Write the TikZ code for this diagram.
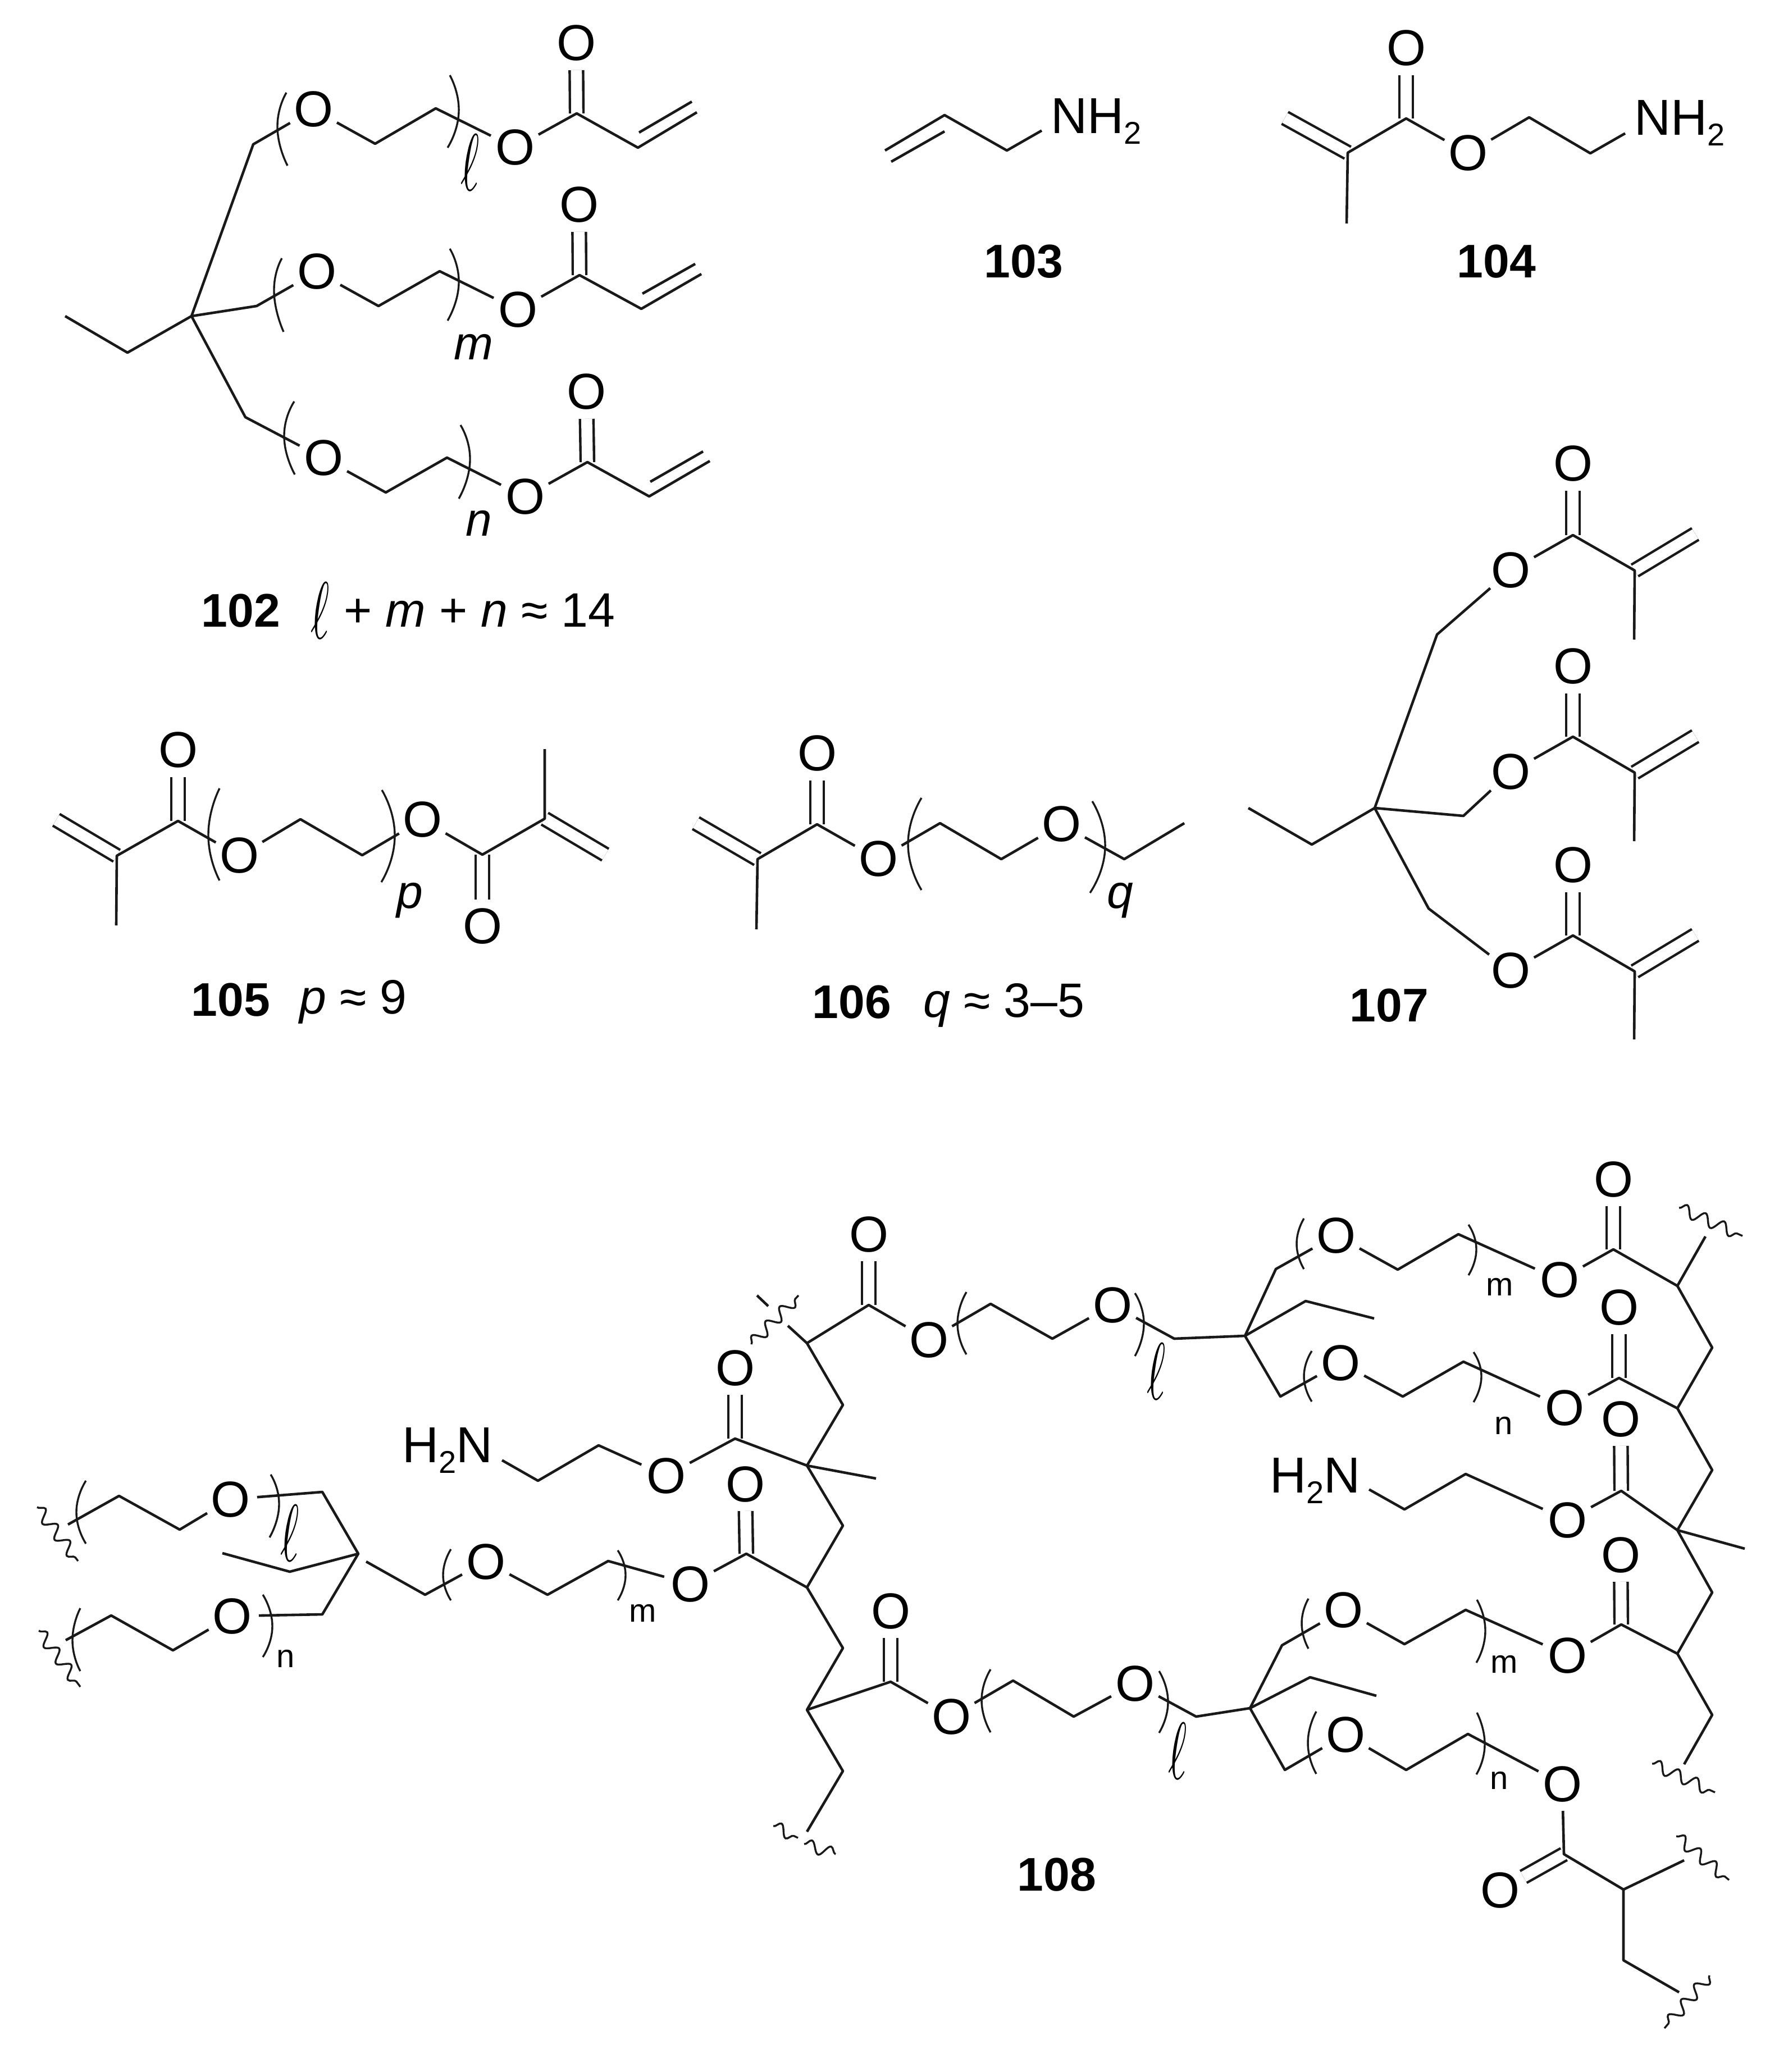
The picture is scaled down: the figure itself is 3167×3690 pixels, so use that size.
\documentclass[tikz,border=0pt]{standalone}
\usepackage{fontspec}
\usepackage{graphicx}
\setmainfont{Liberation Sans}
\usetikzlibrary{decorations.pathmorphing,calc}
\newcommand\subtwo{\raisebox{-4.75pt}{\fontsize{14}{14}\selectfont 2}}
\newcommand\ellg{\scalebox{2}[3.6]{$\ell$}}
\newcommand\arcb[6]{\draw[brk] plot[smooth,tension=1] coordinates {(#1,#2) (#3,#4) (#5,#6)};}
\tikzset{
  bond/.style={line width=1.15pt,line join=round,black!90},
  dbl/.style={line width=1.1pt,double=white,double distance=4.9pt,black!90},
  brk/.style={line width=.85pt,black!90},
  wavy/.style={line width=.85pt,black!90,decorate,decoration={snake,amplitude=2.6pt,segment length=9pt}},
  atom/.style={circle,inner sep=0pt,minimum size=23pt,font=\fontsize{22.5}{22.5}\selectfont},
  txt/.style={inner sep=0pt,font=\fontsize{21.5}{21.5}\selectfont},
  amine/.style={inner sep=0pt,font=\fontsize{22.5}{22.5}\selectfont},
  boldlab/.style={inner sep=0pt,anchor=base,font=\fontsize{21}{21}\selectfont\bfseries},
  idx/.style={inner sep=0pt,anchor=base,font=\fontsize{21}{21}\selectfont\itshape},
  idxs/.style={inner sep=0pt,anchor=base,font=\fontsize{14.5}{14.5}\selectfont},
  ellnode/.style={inner sep=0pt}
}
\begin{document}
\begin{tikzpicture}[x=0.25pt,y=-0.25pt]
\useasboundingbox (0,0) rectangle (3167,3690);
% ---------- 102
\coordinate (a1) at (116,563); \coordinate (a2) at (227,628); \coordinate (a3) at (341,563);
\coordinate (a4) at (451,257); \node[atom] (a5) at (558,195) {O}; \coordinate (a6) at (668,256);
\coordinate (a7) at (776,193); \node[atom] (a8) at (917,263) {O}; \coordinate (a9) at (1027,202);
\node[atom] (a10) at (1026,77) {O}; \coordinate (a11) at (1136,263); \coordinate (a12) at (1241,200);
\coordinate (a13) at (1138,236); \coordinate (a14) at (1232,181);
\coordinate (b1) at (457,545); \node[atom] (b2) at (564,484) {O}; \coordinate (b3) at (674,545);
\coordinate (b4) at (783,483); \node[atom] (b5) at (922,552) {O}; \coordinate (b6) at (1032,490);
\node[atom] (b7) at (1031,365) {O}; \coordinate (b8) at (1142,550); \coordinate (b9) at (1249,488);
\coordinate (b10) at (1144,523); \coordinate (b11) at (1238,470);
\coordinate (c1) at (437,743); \node[atom] (c2) at (576,816) {O}; \coordinate (c3) at (687,877);
\coordinate (c4) at (796,815); \node[atom] (c5) at (935,885) {O}; \coordinate (c6) at (1046,823);
\node[atom] (c7) at (1044,698) {O}; \coordinate (c8) at (1156,884); \coordinate (c9) at (1264,821);
\coordinate (c10) at (1158,858); \coordinate (c11) at (1252,804);
\draw[dbl] (a9) -- (a10); \draw[dbl] (b6) -- (b7); \draw[dbl] (c6) -- (c7);
\draw[bond] (a1) -- (a2) -- (a3) -- (a4) -- (a5) -- (a6) -- (a7) -- (a8) -- (a9) -- (a11) -- (a12);
\draw[bond] (a13) -- (a14);
\draw[bond] (a3) -- (b1) -- (b2) -- (b3) -- (b4) -- (b5) -- (b6) -- (b8) -- (b9);
\draw[bond] (b10) -- (b11);
\draw[bond] (a3) -- (c1) -- (c2) -- (c3) -- (c4) -- (c5) -- (c6) -- (c8) -- (c9);
\draw[bond] (c10) -- (c11);
\arcb{510}{165}{494}{227}{512}{295} \arcb{801}{134}{817}{199}{797}{263}
\arcb{502}{460}{488}{520}{505}{591} \arcb{801}{443}{817}{505}{797}{571}
\arcb{524}{715}{506}{777}{525}{845} \arcb{820}{757}{837}{820}{817}{888}
\node[ellnode] (l102a) at (837,290) {\ellg};
\node[idx] (m102) at (843,641) {m};
\node[idx] (n102) at (853,955) {n};
\node[boldlab] (t102) at (429,1116) {102};
\node[ellnode] (l102b) at (570,1087) {\ellg};
\node[txt,anchor=base west] (f102) at (612,1116) {+ \textit{m} + \textit{n} ≈ 14};
% ---------- 103
\coordinate (v1) at (1576,268); \coordinate (v2) at (1682,205); \coordinate (v3) at (1587,288);
\coordinate (v4) at (1682,234); \coordinate (v5) at (1793,268);
\node[amine,anchor=base west] (nh103) at (1871,238) {NH\subtwo};
\draw[bond] (v1) -- (v2) -- (v5) -- ([shift={(-4pt,-4pt)}]nh103.west);
\draw[bond] (v3) -- (v4);
\node[boldlab] (t103) at (1823,495) {103};
% ---------- 104
\node[atom] (w1) at (2504,86) {O}; \coordinate (w2) at (2504,211); \coordinate (w3) at (2400,272);
\coordinate (w4) at (2398,398); \coordinate (w5) at (2288,210); \node[atom] (w6) at (2614,273) {O};
\coordinate (w7) at (2723,209); \coordinate (w8) at (2832,273);
\node[amine,anchor=base west] (nh104) at (2910,241) {NH\subtwo};
\draw[dbl] (w2) -- (w1); \draw[dbl] (w3) -- (w5);
\draw[bond] (w4) -- (w3) -- (w2) -- (w6) -- (w7) -- (w8) -- ([shift={(-4pt,-4.5pt)}]nh104.west);
\node[boldlab] (t104) at (2665,495) {104};
% ---------- 105
\coordinate (d1) at (207,1648); \coordinate (d2) at (208,1524); \coordinate (d3) at (100,1460);
\coordinate (d4) at (317,1462); \node[atom] (d5) at (317,1336) {O}; \node[atom] (d6) at (426,1524) {O};
\coordinate (d7) at (535,1459); \coordinate (d8) at (645,1523); \node[atom] (d9) at (752,1460) {O};
\coordinate (d10) at (859,1522); \node[atom] (d11) at (859,1650) {O}; \coordinate (d12) at (970,1458);
\coordinate (d13) at (970,1334); \coordinate (d14) at (1078,1522);
\draw[dbl] (d2) -- (d3); \draw[dbl] (d4) -- (d5); \draw[dbl] (d10) -- (d11); \draw[dbl] (d12) -- (d14);
\draw[bond] (d1) -- (d2) -- (d4) -- (d6) -- (d7) -- (d8) -- (d9) -- (d10) -- (d12) -- (d13);
\arcb{391}{1404}{371}{1487}{391}{1568} \arcb{680}{1407}{703}{1489}{679}{1571}
\node[idx] (p105) at (730,1617) {p};
\node[boldlab] (t105) at (411,1809) {105};
\node[txt,anchor=base west] (f105) at (533,1805) {\textit{p} ≈ 9};
% ---------- 106
\coordinate (e1) at (1347,1655); \coordinate (e2) at (1349,1530); \coordinate (e3) at (1239,1466);
\coordinate (e4) at (1455,1468); \node[atom] (e5) at (1455,1342) {O}; \node[atom] (e6) at (1564,1530) {O};
\coordinate (e7) at (1674,1466); \coordinate (e8) at (1783,1530); \node[atom] (e9) at (1890,1468) {O};
\coordinate (e10) at (2002,1530); \coordinate (e11) at (2109,1466);
\draw[dbl] (e2) -- (e3); \draw[dbl] (e4) -- (e5);
\draw[bond] (e1) -- (e2) -- (e4) -- (e6) -- (e7) -- (e8) -- (e9) -- (e10) -- (e11);
\arcb{1641}{1421}{1617}{1503}{1641}{1585} \arcb{1945}{1427}{1968}{1509}{1941}{1590}
\node[idx] (q106) at (1995,1617) {q};
\node[boldlab] (t106) at (1517,1813) {106};
\node[txt,anchor=base west] (f106) at (1644,1811) {\textit{q} ≈ 3–5};
% ---------- 107
\coordinate (f1) at (2223,1439); \coordinate (f2) at (2336,1504); \coordinate (f3) at (2448,1439);
\coordinate (f4) at (2559,1130); \node[atom] (f5) at (2690,1016) {O}; \coordinate (f6) at (2801,953);
\node[atom] (f7) at (2801,826) {O}; \coordinate (f8) at (2911,1016); \coordinate (f9) at (3019,951);
\coordinate (f10) at (2910,1139);
\coordinate (f11) at (2606,1453); \node[atom] (f12) at (2690,1375) {O}; \coordinate (f13) at (2801,1312);
\node[atom] (f14) at (2801,1187) {O}; \coordinate (f15) at (2911,1376); \coordinate (f16) at (3019,1311);
\coordinate (f17) at (2910,1498);
\coordinate (f18) at (2544,1618); \node[atom] (f19) at (2690,1729) {O}; \coordinate (f20) at (2801,1666);
\node[atom] (f21) at (2801,1541) {O}; \coordinate (f22) at (2911,1730); \coordinate (f23) at (3019,1665);
\coordinate (f24) at (2910,1851);
\draw[dbl] (f6) -- (f7); \draw[dbl] (f8) -- (f9);
\draw[dbl] (f13) -- (f14); \draw[dbl] (f15) -- (f16);
\draw[dbl] (f20) -- (f21); \draw[dbl] (f22) -- (f23);
\draw[bond] (f1) -- (f2) -- (f3) -- (f4) -- (f5) -- (f6) -- (f8) -- (f10);
\draw[bond] (f3) -- (f11) -- (f12) -- (f13) -- (f15) -- (f17);
\draw[bond] (f3) -- (f18) -- (f19) -- (f20) -- (f22) -- (f24);
\node[boldlab] (t107) at (2474,1819) {107};
% ---------- 108 left arm
\coordinate (g1) at (121,2715); \coordinate (g2) at (212,2664); \coordinate (g3) at (320,2724);
\node[atom] (g4) at (410,2670) {O}; \coordinate (g5) at (574,2657); \coordinate (g6) at (638,2767);
\coordinate (g7) at (516,2799); \coordinate (g8) at (396,2766); \coordinate (g9) at (574,2875);
\node[atom] (g10) at (413,2878) {O}; \coordinate (g11) at (308,2939); \coordinate (g12) at (198,2877);
\coordinate (g13) at (117,2921);
\coordinate (g14) at (652,2781); \coordinate (g15) at (757,2840); \node[atom] (g16) at (865,2781) {O};
\coordinate (g17) at (975,2840); \coordinate (g18) at (1083,2780); \node[atom] (g19) at (1229,2821) {O};
\coordinate (g20) at (1329,2767); \node[atom] (g21) at (1327,2643) {O}; \coordinate (g22) at (1437,2827);
\coordinate (g23) at (66,2684); \coordinate (g24) at (139,2780);
\coordinate (g25) at (69,2904); \coordinate (g26) at (143,3004);
\node[amine,anchor=base east] (nh108a) at (878,2604) {H\subtwo N};
\coordinate (h2) at (958,2637); \coordinate (h3) at (1066,2574); \node[atom] (h4) at (1186,2628) {O};
\coordinate (h5) at (1309,2562); \node[atom] (h6) at (1309,2436) {O}; \coordinate (h7) at (1437,2610);
\coordinate (h8) at (1560,2633);
\coordinate (j1) at (1437,2392); \coordinate (j2) at (1501,2502); \coordinate (j3) at (1501,2717);
\coordinate (j4) at (1501,2935); \coordinate (j5) at (1437,3045); \coordinate (j6) at (1501,3154);
\coordinate (j7) at (1437,3262); \coordinate (j8) at (1403,2361);
\coordinate (j9) at (1338,2394); \coordinate (j10) at (1422,2307);
\coordinate (j11) at (1348,2307); \coordinate (j12) at (1368,2326);
\coordinate (j13) at (1547,2324); \node[atom] (j14) at (1547,2198) {O}; \node[atom] (j15) at (1654,2386) {O};
\coordinate (j16) at (1764,2322); \coordinate (j17) at (1874,2384); \node[atom] (j18) at (1981,2324) {O};
\coordinate (j19) at (2091,2384); \coordinate (k0) at (2217,2379);
\coordinate (j20) at (1377,3252); \coordinate (j21) at (1421,3273);
\coordinate (j22) at (1432,3284); \coordinate (j23) at (1488,3302);
\coordinate (l1) at (1586,2995); \node[atom] (l2) at (1586,2869) {O}; \node[atom] (l3) at (1694,3057) {O};
\coordinate (l4) at (1804,2993); \coordinate (l5) at (1912,3057); \node[atom] (l6) at (2021,2998) {O};
\coordinate (l7) at (2130,3057); \coordinate (m0) at (2226,3042);
% ---------- 108 right part
\coordinate (k1) at (2272,2260); \node[atom] (k2) at (2379,2200) {O}; \coordinate (k3) at (2489,2261);
\coordinate (k4) at (2597,2198); \node[atom] (k5) at (2777,2279) {O}; \coordinate (k6) at (2873,2225);
\node[atom] (k7) at (2873,2100) {O}; \coordinate (k8) at (2987,2290); \coordinate (k9) at (3037,2202);
\coordinate (k10) at (2990,2151); \coordinate (k11) at (3103,2201);
\coordinate (k12) at (2325,2317); \coordinate (k13) at (2447,2348);
\coordinate (n1) at (2280,2487); \node[atom] (n2) at (2387,2427) {O}; \coordinate (n3) at (2498,2487);
\coordinate (n4) at (2606,2425); \node[atom] (n5) at (2786,2507) {O}; \coordinate (n6) at (2883,2454);
\node[atom] (n7) at (2883,2328) {O}; \coordinate (n8) at (2987,2508); \coordinate (n9) at (3049,2400);
\node[amine,anchor=base east] (nh108b) at (2423,2658) {H\subtwo N};
\coordinate (q2) at (2501,2688); \coordinate (q3) at (2610,2625); \node[atom] (q4) at (2791,2707) {O};
\coordinate (q5) at (2887,2655); \node[atom] (q6) at (2886,2527) {O}; \coordinate (q7) at (2987,2725);
\coordinate (q8) at (3049,2618); \coordinate (q9) at (3107,2758);
\coordinate (r1) at (2283,2930); \node[atom] (r2) at (2392,2867) {O}; \coordinate (r3) at (2501,2928);
\coordinate (r4) at (2610,2867); \node[atom] (r5) at (2791,2948) {O}; \coordinate (r6) at (2887,2893);
\node[atom] (r7) at (2886,2769) {O}; \coordinate (r8) at (2987,2945); \coordinate (r9) at (3049,2836);
\coordinate (s1) at (3049,3054); \coordinate (s2) at (2999,3142);
\coordinate (s3) at (2942,3141); \coordinate (s4) at (3054,3192);
\coordinate (t1) at (2333,2987); \coordinate (t2) at (2451,3020);
\coordinate (u1) at (2288,3152); \node[atom] (u2) at (2396,3089) {O}; \coordinate (u3) at (2504,3152);
\coordinate (u4) at (2614,3088); \node[atom] (u5) at (2782,3177) {O}; \coordinate (u6) at (2785,3302);
\node[atom] (u7) at (2671,3366) {O}; \coordinate (u8) at (2891,3365); \coordinate (u9) at (2999,3313);
\coordinate (u10) at (2985,3270); \coordinate (u11) at (3079,3348);
\coordinate (u12) at (2891,3491); \coordinate (u13) at (2990,3548);
\coordinate (u14) at (3044,3518); \coordinate (u15) at (2964,3612);
% doubles first
\draw[dbl] (g20) -- (g21); \draw[dbl] (h5) -- (h6); \draw[dbl] (j13) -- (j14); \draw[dbl] (l1) -- (l2);
\draw[dbl] (k6) -- (k7); \draw[dbl] (n6) -- (n7); \draw[dbl] (q5) -- (q6); \draw[dbl] (r6) -- (r7);
\draw[dbl] (u6) -- (u7);
% singles
\draw[bond] (g1) -- (g2) -- (g3) -- (g4) -- (g5) -- (g6) -- (g7) -- (g8);
\draw[bond] (g6) -- (g9) -- (g10) -- (g11) -- (g12) -- (g13);
\draw[bond] (g14) -- (g15) -- (g16) -- (g17) -- (g18) -- (g19) -- (g20) -- (g22);
\draw[bond] ([shift={(4pt,-4.5pt)}]nh108a.east) -- (h2) -- (h3) -- (h4) -- (h5) -- (h7) -- (h8);
\draw[bond] (j8) -- (j1) -- (j2) -- (h7) -- (j3) -- (g22) -- (j4) -- (j5) -- (j6) -- (j7);
\draw[bond] (j11) -- (j12);
\draw[bond] (j1) -- (j13) -- (j15) -- (j16) -- (j17) -- (j18) -- (j19) -- (k0);
\draw[bond] (j5) -- (l1) -- (l3) -- (l4) -- (l5) -- (l6) -- (l7) -- (m0);
\draw[bond] (k0) -- (k1) -- (k2) -- (k3) -- (k4) -- (k5) -- (k6) -- (k8) -- (k9);
\draw[bond] (k0) -- (k12) -- (k13);
\draw[bond] (k0) -- (n1) -- (n2) -- (n3) -- (n4) -- (n5) -- (n6) -- (n8);
\draw[bond] (k8) -- (n9) -- (n8) -- (q8) -- (q7) -- (r9) -- (r8) -- (s1) -- (s2);
\draw[bond] ([shift={(3.75pt,-4pt)}]nh108b.east) -- (q2) -- (q3) -- (q4) -- (q5) -- (q7) -- (q9);
\draw[bond] (m0) -- (r1) -- (r2) -- (r3) -- (r4) -- (r5) -- (r6) -- (r8);
\draw[bond] (m0) -- (t1) -- (t2);
\draw[bond] (m0) -- (u1) -- (u2) -- (u3) -- (u4) -- (u5) -- (u6) -- (u8) -- (u9);
\draw[bond] (u8) -- (u12) -- (u13);
% wavy ends
\draw[wavy] (g23) -- (g24); \draw[wavy] (g25) -- (g26); \draw[wavy] (j9) -- (j10);
\draw[wavy] (j20) -- (j21); \draw[wavy] (j22) -- (j23); \draw[wavy] (k10) -- (k11);
\draw[wavy] (s3) -- (s4); \draw[wavy] (u10) -- (u11); \draw[wavy] (u14) -- (u15);
% brackets
\arcb{153}{2637}{136}{2693}{153}{2749} \arcb{482}{2626}{497}{2680}{480}{2738}
\arcb{143}{2864}{129}{2921}{143}{2976} \arcb{468}{2840}{485}{2896}{468}{2951}
\arcb{803}{2759}{789}{2805}{803}{2850} \arcb{1100}{2761}{1114}{2805}{1100}{2850}
\arcb{1721}{2301}{1705}{2357}{1721}{2412} \arcb{2021}{2303}{2037}{2357}{2021}{2415}
\arcb{1764}{2973}{1748}{3028}{1764}{3085} \arcb{2064}{2976}{2080}{3031}{2064}{3086}
\arcb{2322}{2170}{2309}{2215}{2322}{2260} \arcb{2615}{2181}{2629}{2225}{2615}{2271}
\arcb{2336}{2406}{2322}{2451}{2336}{2496} \arcb{2624}{2408}{2638}{2451}{2624}{2497}
\arcb{2330}{2847}{2318}{2891}{2330}{2936} \arcb{2630}{2849}{2645}{2905}{2629}{2961}
\arcb{2344}{3048}{2329}{3104}{2344}{3159} \arcb{2630}{3050}{2644}{3107}{2629}{3160}
% indices
\node[ellnode] (l108a) at (516,2730) {\ellg};
\node[ellnode] (l108b) at (2059,2442) {\ellg};
\node[ellnode] (l108c) at (2097,3118) {\ellg};
\node[idxs] (n108a) at (509,2969) {n};
\node[idxs] (m108a) at (1145,2888) {m};
\node[idxs] (m108b) at (2671,2307) {m};
\node[idxs] (n108b) at (2678,2554) {n};
\node[idxs] (m108c) at (2679,2979) {m};
\node[idxs] (n108c) at (2670,3186) {n};
\node[boldlab] (t108) at (1882,3367) {108};
\end{tikzpicture}
\end{document}
